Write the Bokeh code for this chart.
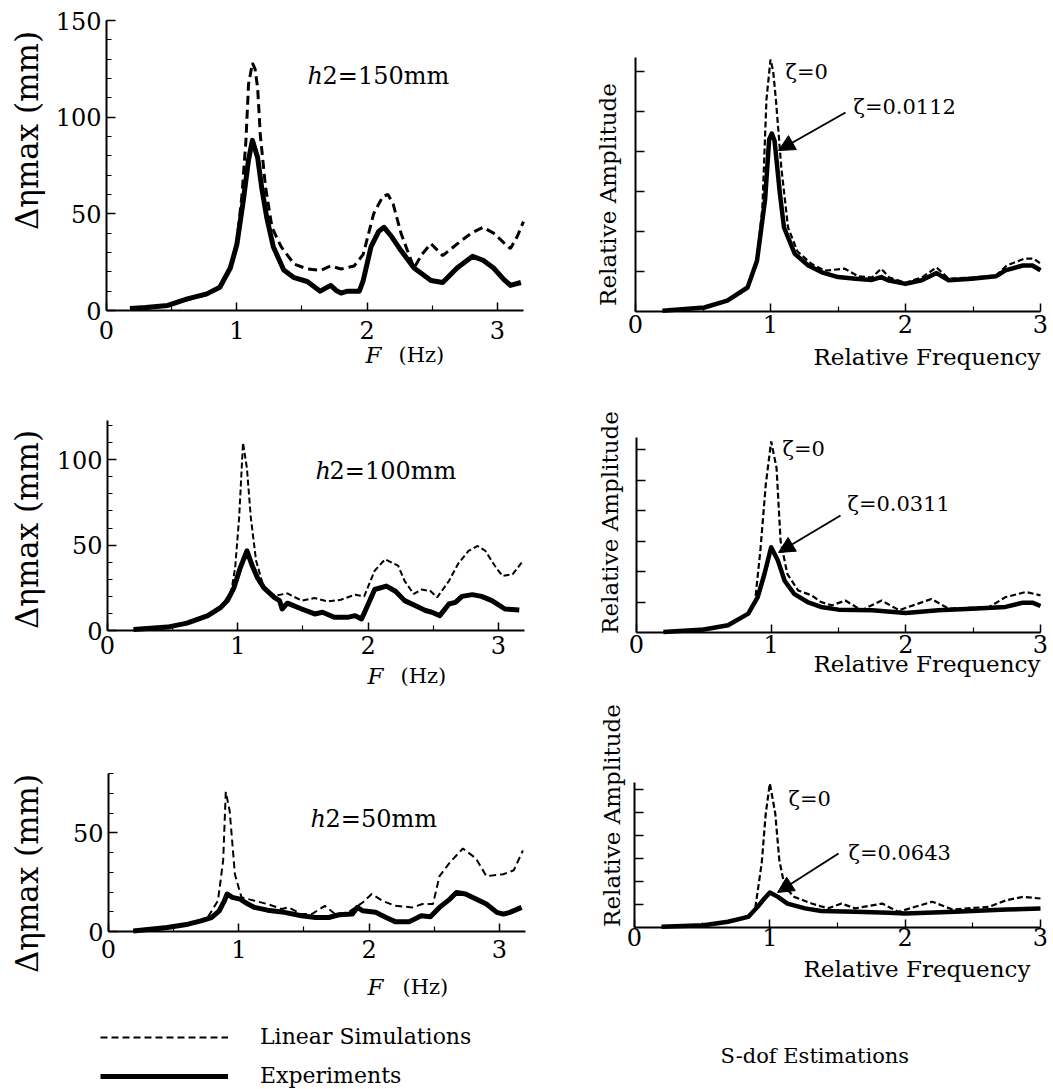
import math
from bokeh.plotting import figure
from bokeh.layouts import row, column
from bokeh.models import (Range1d, FixedTicker, Label, Arrow, NormalHead,
                          Legend, LegendItem)
from bokeh.embed import file_html
from bokeh.resources import INLINE

FONT = "DejaVu Serif"

# ---------------- data ----------------
# h2 = 150 mm : experiments / linear simulations  (F in Hz, amplitude in mm)
lt_exp_f = [0.18, 0.3, 0.47, 0.62, 0.77, 0.87, 0.95, 1.0, 1.05, 1.09, 1.12, 1.16, 1.19, 1.23,
            1.28, 1.36, 1.44, 1.54, 1.64, 1.72, 1.76, 1.80, 1.85, 1.94, 1.97, 2.03, 2.09, 2.13,
            2.19, 2.26, 2.36, 2.49, 2.58, 2.69, 2.81, 2.89, 2.97, 3.05, 3.10, 3.18]
lt_exp_a = [1, 1.5, 2.6, 6, 8.6, 12, 22, 34, 57, 78, 88, 79, 64, 48,
            33, 21, 17, 15, 10, 13, 10.5, 9, 10, 10, 15.5, 33, 41, 43,
            38, 31, 22, 15.5, 14.5, 22, 28, 26, 22, 16, 13, 14.5]
lt_sim_f = [0.18, 0.3, 0.47, 0.62, 0.77, 0.87, 0.95, 1.0, 1.04, 1.07, 1.09, 1.12, 1.14, 1.16,
            1.18, 1.22, 1.27, 1.34, 1.44, 1.54, 1.64, 1.72, 1.80, 1.90, 1.97, 2.05, 2.12, 2.16,
            2.20, 2.26, 2.32, 2.36, 2.42, 2.49, 2.58, 2.72, 2.80, 2.89, 2.97, 3.05, 3.10, 3.15, 3.2]
lt_sim_a = [0.8, 1.3, 2.4, 5.5, 8.2, 12, 22, 35, 60, 88, 117, 128, 125, 115,
            91, 64, 43, 33, 24, 21.5, 20.7, 23, 21.5, 23, 29, 50, 59, 60,
            55, 40, 29, 22, 29, 34.6, 28.4, 36, 40, 43, 40, 35, 32, 38, 46]

# h2 = 100 mm
ml_exp_f = [0.2, 0.46, 0.61, 0.77, 0.87, 0.92, 0.97, 1.02, 1.07, 1.11, 1.15, 1.20, 1.28, 1.32,
            1.34, 1.38, 1.49, 1.59, 1.65, 1.74, 1.85, 1.90, 1.95, 1.99, 2.05, 2.14, 2.21, 2.28,
            2.36, 2.44, 2.49, 2.55, 2.62, 2.67, 2.72, 2.80, 2.87, 2.95, 3.05, 3.16]
ml_exp_a = [0.6, 2, 4.3, 8.7, 13.6, 17.5, 25, 37, 46.6, 38, 31, 25, 19.4, 17.5,
            12.6, 16, 12.6, 9.7, 10.7, 7.8, 7.8, 8.7, 6.8, 13.6, 24, 26, 23, 17.5,
            14.6, 11.7, 10.7, 8.7, 15.5, 16.5, 20, 21, 20, 17.5, 12.6, 12]
ml_sim_f = [0.2, 0.46, 0.61, 0.77, 0.87, 0.95, 0.98, 1.01, 1.04, 1.07, 1.10, 1.14, 1.20, 1.28,
            1.38, 1.49, 1.59, 1.69, 1.79, 1.90, 1.97, 2.05, 2.13, 2.23, 2.28, 2.35, 2.41, 2.48,
            2.53, 2.62, 2.69, 2.77, 2.84, 2.90, 2.98, 3.03, 3.11, 3.18]
ml_sim_a = [0.6, 2, 4.3, 8.7, 13.6, 23, 37, 66, 110, 95, 66, 41, 25, 20.4,
            21.7, 17.5, 19, 17, 18, 21, 20, 35, 41.7, 38, 29, 21.4, 24, 23,
            19.4, 29, 39, 46.6, 49.5, 46.6, 37, 32, 33, 40]

# h2 = 50 mm
lb_exp_f = [0.19, 0.45, 0.61, 0.71, 0.79, 0.85, 0.89, 0.91, 0.95, 1.01, 1.07, 1.12, 1.22, 1.35,
            1.48, 1.59, 1.69, 1.77, 1.87, 1.91, 1.95, 2.05, 2.13, 2.20, 2.31, 2.40, 2.47, 2.54,
            2.62, 2.67, 2.74, 2.82, 2.90, 2.98, 3.03, 3.08, 3.17]
lb_exp_a = [0.3, 2, 3.7, 5.4, 7, 10.5, 15.6, 19, 17.3, 16.4, 13.9, 12.2, 10.8, 9.7,
            8, 7.1, 7.1, 8.5, 8.8, 12.2, 10.5, 9.7, 7.1, 5, 5, 8, 7.5, 12.2,
            16.4, 19.8, 19, 16.4, 13.9, 9.7, 8.8, 9.7, 12.2]
lb_sim_f = [0.19, 0.45, 0.61, 0.76, 0.84, 0.88, 0.90, 0.93, 0.97, 1.02, 1.12, 1.22, 1.33, 1.38,
            1.48, 1.56, 1.66, 1.74, 1.84, 1.95, 2.02, 2.10, 2.20, 2.33, 2.41, 2.49, 2.54, 2.62,
            2.72, 2.82, 2.90, 3.03, 3.11, 3.18]
lb_sim_a = [0.3, 2, 3.7, 7, 15.6, 36, 70.7, 61, 29, 17.3, 15.6, 13.9, 11.4, 12.2,
            8.8, 8.8, 13, 8.8, 9.7, 14.7, 19, 15.6, 13, 12.2, 13.9, 13.9, 28, 35,
            42, 37, 28, 29, 31, 41]

# S-dof estimations (relative frequency, relative amplitude)
rt_exp_f = [0.2, 0.51, 0.68, 0.83, 0.90, 0.96, 0.99, 1.01, 1.03, 1.07, 1.10, 1.18, 1.28, 1.38,
            1.50, 1.63, 1.75, 1.82, 1.87, 2.0, 2.12, 2.23, 2.32, 2.49, 2.67, 2.74, 2.87, 2.94, 3.0]
rt_exp_a = [0.02, 0.1, 0.27, 0.6, 1.27, 2.8, 4.3, 4.45, 4.27, 2.94, 2.1, 1.44, 1.15, 0.98,
            0.86, 0.82, 0.79, 0.86, 0.78, 0.69, 0.78, 0.96, 0.78, 0.82, 0.88, 1.03, 1.15, 1.15, 1.03]
rt_sim_f = [0.2, 0.51, 0.68, 0.83, 0.90, 0.94, 0.97, 1.0, 1.02, 1.04, 1.08, 1.13, 1.20, 1.30,
            1.40, 1.55, 1.65, 1.75, 1.82, 1.88, 2.0, 2.12, 2.23, 2.32, 2.49, 2.67, 2.75, 2.88, 2.95, 3.0]
rt_sim_a = [0.02, 0.1, 0.27, 0.6, 1.3, 2.6, 5.3, 6.3, 6.0, 5.3, 3.6, 2.1, 1.5, 1.2,
            1.02, 1.07, 0.88, 0.85, 1.07, 0.85, 0.72, 0.85, 1.1, 0.82, 0.85, 0.9, 1.15, 1.32, 1.32, 1.2]

mr_exp_f = [0.2, 0.5, 0.68, 0.83, 0.90, 0.95, 1.0, 1.05, 1.10, 1.17, 1.27, 1.37, 1.50, 1.75,
            2.0, 2.24, 2.49, 2.74, 2.87, 2.94, 3.0]
mr_exp_a = [0.02, 0.1, 0.24, 0.62, 1.16, 1.92, 2.8, 2.36, 1.7, 1.27, 1.0, 0.84, 0.75, 0.73,
            0.64, 0.73, 0.78, 0.84, 0.98, 0.98, 0.87]
mr_sim_f = [0.2, 0.5, 0.68, 0.83, 0.88, 0.92, 0.96, 1.0, 1.04, 1.07, 1.12, 1.20, 1.30, 1.37,
            1.45, 1.55, 1.67, 1.82, 1.95, 2.19, 2.32, 2.62, 2.74, 2.89, 3.0]
mr_sim_a = [0.02, 0.1, 0.24, 0.62, 1.0, 2.7, 4.86, 6.27, 5.4, 3.0, 1.92, 1.38, 1.22, 1.0,
            0.89, 1.05, 0.73, 1.05, 0.73, 1.1, 0.78, 0.84, 1.16, 1.33, 1.22]

rb_exp_f = [0.2, 0.51, 0.69, 0.84, 0.91, 0.96, 1.0, 1.06, 1.13, 1.26, 1.38, 1.63, 1.88, 2.0,
            2.37, 2.75, 3.0]
rb_exp_a = [0.03, 0.1, 0.25, 0.46, 0.9, 1.26, 1.52, 1.33, 1.04, 0.83, 0.72, 0.68, 0.64, 0.61,
            0.68, 0.78, 0.83]
rb_sim_f = [0.2, 0.51, 0.69, 0.84, 0.89, 0.94, 0.97, 1.0, 1.04, 1.07, 1.11, 1.18, 1.31, 1.43,
            1.53, 1.63, 1.83, 1.95, 2.2, 2.35, 2.62, 2.75, 2.87, 3.0]
rb_sim_a = [0.03, 0.1, 0.25, 0.5, 0.75, 2.8, 4.96, 6.26, 4.96, 2.93, 1.77, 1.33, 1.04, 0.83,
            1.04, 0.83, 1.04, 0.68, 1.12, 0.78, 0.9, 1.19, 1.33, 1.26]

h2_labels = ["2=150mm", "2=100mm", "2=50mm"]
zeta_labels = ["ζ=0.0112", "ζ=0.0311", "ζ=0.0643"]
x_ticks = [0, 1, 2, 3]
x_minor = [0.5, 1.5, 2.5]

# ---------------- layout geometry (page pixels) ----------------
# cx, cy, w, h : canvas; fl, ft, fw, fh : box spanned by the two axes
G = {
    "LT": dict(cx=0, cy=0, w=528, h=400, fl=106, ft=20, fw=417, fh=290, xr=(0, 3.2), yr=(0, 150)),
    "ML": dict(cx=0, cy=400, w=528, h=345, fl=107, ft=420, fw=417, fh=210, xr=(0, 3.2), yr=(0, 123)),
    "LB": dict(cx=0, cy=745, w=528, h=343, fl=108, ft=773, fw=417, fh=158, xr=(0, 3.2), yr=(0, 80)),
    "RT": dict(cx=528, cy=0, w=524, h=395, fl=635, ft=57, fw=405, fh=254, xr=(0, 3.0), yr=(0, 6.35)),
    "MR": dict(cx=528, cy=395, w=524, h=300, fl=636, ft=437, fw=404, fh=195, xr=(0, 3.0), yr=(0, 6.4)),
    "RB": dict(cx=528, cy=695, w=524, h=393, fl=634, ft=782, fw=406, fh=145, xr=(0, 3.0), yr=(0, 6.3)),
}


def to_data(g, rx, ry):
    x0, x1 = g["xr"]
    y0, y1 = g["yr"]
    return (x0 + (rx - g["fl"]) / g["fw"] * (x1 - x0),
            y0 + (g["ft"] + g["fh"] - ry) / g["fh"] * (y1 - y0))


def make_fig(g):
    x0, x1 = g["xr"]
    y0, y1 = g["yr"]
    xs, ye = to_data(g, g["cx"], g["cy"])
    xe, ys = to_data(g, g["cx"] + g["w"], g["cy"] + g["h"])
    p = figure(width=g["w"], height=g["h"],
               x_range=Range1d(xs, xe), y_range=Range1d(ys, ye),
               output_backend="svg", toolbar_location=None,
               min_border=0, min_border_left=0, min_border_right=0,
               min_border_top=0, min_border_bottom=0)
    p.outline_line_color = None
    p.grid.visible = False
    p.background_fill_color = "white"
    p.border_fill_color = "white"
    p.xaxis[0].fixed_location = y0
    p.xaxis[0].bounds = (x0, x1)
    p.yaxis[0].fixed_location = x0
    p.yaxis[0].bounds = (y0, y1)
    for ax in (p.xaxis[0], p.yaxis[0]):
        ax.axis_line_width = 2
        ax.axis_line_color = "black"
        ax.major_tick_line_color = "black"
        ax.minor_tick_line_color = "black"
        ax.major_tick_line_width = 1.5
        ax.minor_tick_line_width = 1.2
        ax.major_tick_out = 0
        ax.minor_tick_out = 0
        ax.major_label_text_font = FONT
        ax.major_label_text_font_size = "24px"
        ax.major_label_text_color = "black"
    p.xaxis[0].ticker = FixedTicker(ticks=x_ticks, minor_ticks=x_minor)
    p.xaxis[0].major_tick_in = 8
    p.xaxis[0].minor_tick_in = 5
    return p


def lab(p, g, rx, ry, text, size, style="normal", align="left", angle=0.0):
    # (rx, ry) is the page position of the text's left end (or centre), vertical middle
    x, y = to_data(g, rx, ry)
    p.add_layout(Label(x=x, y=y, text=text, text_font=FONT, text_font_size=f"{size}px",
                       text_font_style=style, text_align=align, text_baseline="middle",
                       angle=angle, text_color="black"))


def arrow(p, g, tail, tip):
    x0, y0 = to_data(g, *tail)
    x1, y1 = to_data(g, *tip)
    p.add_layout(Arrow(end=NormalHead(size=16, fill_color="black", line_color="black"),
                       x_start=x0, y_start=y0, x_end=x1, y_end=y1,
                       line_width=2, line_color="black"))


# ---------------- left column: measured response ----------------
left_specs = [
    ("LT", lt_exp_f, lt_exp_a, lt_sim_f, lt_sim_a, [0, 50, 100, 150], list(range(0, 151, 10)),
     "3", "9 5", 10, (307, 75), (322, 75), 130, (365, 398, 354)),
    ("ML", ml_exp_f, ml_exp_a, ml_sim_f, ml_sim_a, [0, 50, 100], list(range(0, 121, 10)),
     "2", "6 3", 5, (315, 470), (329, 470), 529, (367, 400, 675)),
    ("LB", lb_exp_f, lb_exp_a, lb_sim_f, lb_sim_a, [0, 50], list(range(0, 81, 10)),
     "2", "7 4", 8, (310, 818), (325, 818), 873, (367, 402, 986)),
]
left_figs = []
for i, (key, ef, ea, sf, sa, yt, ym, sw, dash, xstand, hpos, h2pos, ycen, fpos) in enumerate(left_specs):
    g = G[key]
    p = make_fig(g)
    p.yaxis[0].ticker = FixedTicker(ticks=yt, minor_ticks=ym)
    p.yaxis[0].major_tick_in = 9
    p.yaxis[0].minor_tick_in = 5
    p.yaxis[0].major_label_standoff = 5
    p.xaxis[0].major_label_standoff = xstand
    r_sim = p.line(sf, sa, line_color="black", line_width=float(sw), line_dash=dash)
    r_exp = p.line(ef, ea, line_color="black", line_width=5, line_join="round")
    # y label  Δηmax (mm)
    lab(p, g, 26, ycen, "Δηmax (mm)", 31, align="center", angle=math.pi / 2)
    # x label  F (Hz)
    lab(p, g, fpos[0], fpos[2], "F", 23, style="italic")
    lab(p, g, fpos[1], fpos[2], "(Hz)", 21)
    # h2 = ...
    lab(p, g, hpos[0], hpos[1], "h", 24, style="italic")
    lab(p, g, h2pos[0], h2pos[1], h2_labels[i], 24)
    if key == "LB":
        legend = Legend(items=[LegendItem(label="Linear Simulations", renderers=[r_sim]),
                               LegendItem(label="Experiments", renderers=[r_exp])],
                        location=(100 - g["cx"], 0),
                        orientation="vertical", glyph_width=128, glyph_height=24,
                        label_height=24, label_standoff=32, spacing=14, padding=0, margin=0,
                        border_line_color=None, background_fill_alpha=0,
                        label_text_font=FONT, label_text_font_size="22px",
                        label_text_color="black")
        p.add_layout(legend)
    left_figs.append(p)

# ---------------- right column: S-dof estimations ----------------
right_specs = [
    ("RT", rt_exp_f, rt_exp_a, rt_sim_f, rt_sim_a, 3, 607, 194,
     (785, 71), (853, 106), ((845, 112), (778, 150)), (813, 356)),
    ("MR", mr_exp_f, mr_exp_a, mr_sim_f, mr_sim_a, 2, 609, 522,
     (782, 448), (847, 503), ((840, 515), (778, 552)), (813, 663)),
    ("RB", rb_exp_f, rb_exp_a, rb_sim_f, rb_sim_a, 0, 611, 815,
     (788, 798), (848, 852), ((838, 853), (777, 892)), (803, 968)),
]
right_figs = []
for i, (key, ef, ea, sf, sa, xstand, yax_x, yax_c, z0pos, zpos, arr, rfpos) in enumerate(right_specs):
    g = G[key]
    p = make_fig(g)
    p.yaxis[0].ticker = FixedTicker(ticks=[], minor_ticks=[1, 2, 3, 4, 5, 6])
    p.yaxis[0].minor_tick_in = 9
    p.yaxis[0].minor_tick_line_width = 1.5
    p.xaxis[0].major_label_standoff = xstand
    p.line(sf, sa, line_color="black", line_width=2.2, line_dash="6 3")
    p.line(ef, ea, line_color="black", line_width=4.5, line_join="round")
    lab(p, g, yax_x, yax_c, "Relative Amplitude", 23, align="center", angle=math.pi / 2)
    lab(p, g, rfpos[0], rfpos[1], "Relative Frequency", 23)
    lab(p, g, z0pos[0], z0pos[1], "ζ=0", 21)
    lab(p, g, zpos[0], zpos[1], zeta_labels[i], 21)
    arrow(p, g, arr[0], arr[1])
    if key == "RB":
        lab(p, g, 720, 1055, "S-dof Estimations", 21)
    right_figs.append(p)

layout = row(column(*left_figs), column(*right_figs))
open("out.html", "w").write(file_html(layout, INLINE))
